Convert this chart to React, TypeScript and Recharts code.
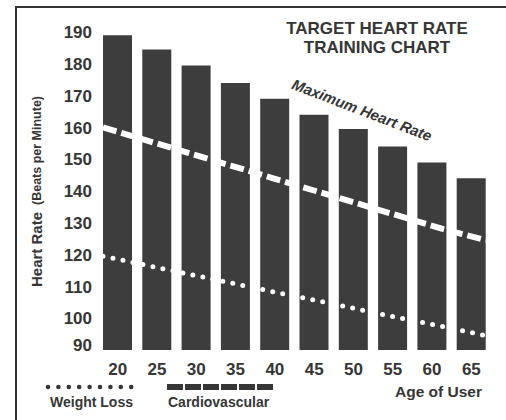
import { ComposedChart, Bar, Line, XAxis, YAxis } from 'recharts'

const ages = [20, 25, 30, 35, 40, 45, 50, 55, 60, 65]
const maxHeartRate = [189, 184.5, 179.5, 174, 169, 164, 159.5, 154, 149, 144]
const cardioZone = [160, 156, 152, 148, 144, 140, 136, 132, 128, 124.5]
const weightLossZone = [119.5, 116.7, 113.9, 111.1, 108.3, 105.6, 102.8, 100, 97.3, 94.5]
const yTicks = [90, 100, 110, 120, 130, 140, 150, 160, 170, 180, 190]

const FONT = '"Liberation Sans", Arial, sans-serif'
const INK = '#363636'
const BAR = '#3d3d3d'

const data = ages.map((age, i) => ({
  age,
  max: maxHeartRate[i],
  cardio: cardioZone[i],
  weight: weightLossZone[i],
}))

// lowest label sits a little higher than its gridline in the original
function YTick(props: any) {
  const { x, y, payload } = props
  const shift = payload.value === 90 ? -5 : 0
  return (
    <text x={x} y={y + shift} dy="0.36em" textAnchor="end" fontFamily={FONT}
          fontWeight="bold" fontSize={17} fill={INK}>
      {payload.value}
    </text>
  )
}

function Overlay() {
  return (
    <svg width={506} height={420} style={{ position: 'absolute', left: 0, top: 0, pointerEvents: 'none' }}
         fontFamily={FONT} fontWeight="bold" fill={INK}>
      <line x1={16} y1={6} x2={16} y2={420} stroke="#333" strokeWidth={2} />
      <line x1={15} y1={7} x2={506} y2={7} stroke="#333" strokeWidth={2} />

      <text x={377} y={34} textAnchor="middle" fontSize={17}>TARGET HEART RATE</text>
      <text x={377} y={53} textAnchor="middle" fontSize={17}>TRAINING CHART</text>

      <text x={360} y={115} textAnchor="middle" fontSize={15} fontStyle="italic"
            transform="rotate(21 360 115)">Maximum Heart Rate</text>

      <text transform="translate(42 249.5) rotate(-90)" textAnchor="middle" fontSize={15}>Heart Rate</text>
      <text transform="translate(41 150.5) rotate(-90)" textAnchor="middle" fontSize={12.5}>(Beats per Minute)</text>

      <line x1={48} y1={387} x2={131.5} y2={387} stroke={INK} strokeWidth={4.6}
            strokeLinecap="round" strokeDasharray="0 10.4" />
      <text x={50} y={407} fontSize={14}>Weight Loss</text>

      <line x1={167} y1={387} x2={273} y2={387} stroke={INK} strokeWidth={6} strokeDasharray="16 2" />
      <text x={168} y={407} fontSize={14}>Cardiovascular</text>

      <text x={482} y={397} textAnchor="end" fontSize={15.5}>Age of User</text>
    </svg>
  )
}

export default function App() {
  return (
    <div style={{ position: 'absolute', left: 0, top: 0, width: 506, height: 420, background: '#fff' }}>
      <ComposedChart width={506} height={420} data={data}
                     margin={{ top: 32, right: 15, bottom: 40, left: 38 }}>
        <XAxis xAxisId="cat" dataKey="age" type="category" height={30} axisLine={false} tickLine={false}
               tickSize={0} tickMargin={13}
               tick={{ fontSize: 17, fontWeight: 'bold', fill: INK, fontFamily: FONT }} />
        <XAxis xAxisId="line" dataKey="age" type="number" domain={[20, 65]} hide
               padding={{ left: 5, right: 5 }} />
        <YAxis domain={[90, 190]} ticks={yTicks} width={60} axisLine={false} tickLine={false}
               tickSize={0} tickMargin={6} allowDataOverflow tick={<YTick />} />
        <Bar xAxisId="cat" dataKey="max" fill={BAR} barSize={29} isAnimationActive={false} />
        <Line xAxisId="line" type="linear" dataKey="cardio" stroke="#fff" strokeWidth={6}
              strokeDasharray="14 5" dot={false} activeDot={false} isAnimationActive={false} />
        <Line xAxisId="line" type="linear" dataKey="weight" stroke="#fff" strokeWidth={5}
              strokeLinecap="round" strokeDasharray="0 10.2" dot={false} activeDot={false}
              isAnimationActive={false} />
      </ComposedChart>
      <Overlay />
    </div>
  )
}
